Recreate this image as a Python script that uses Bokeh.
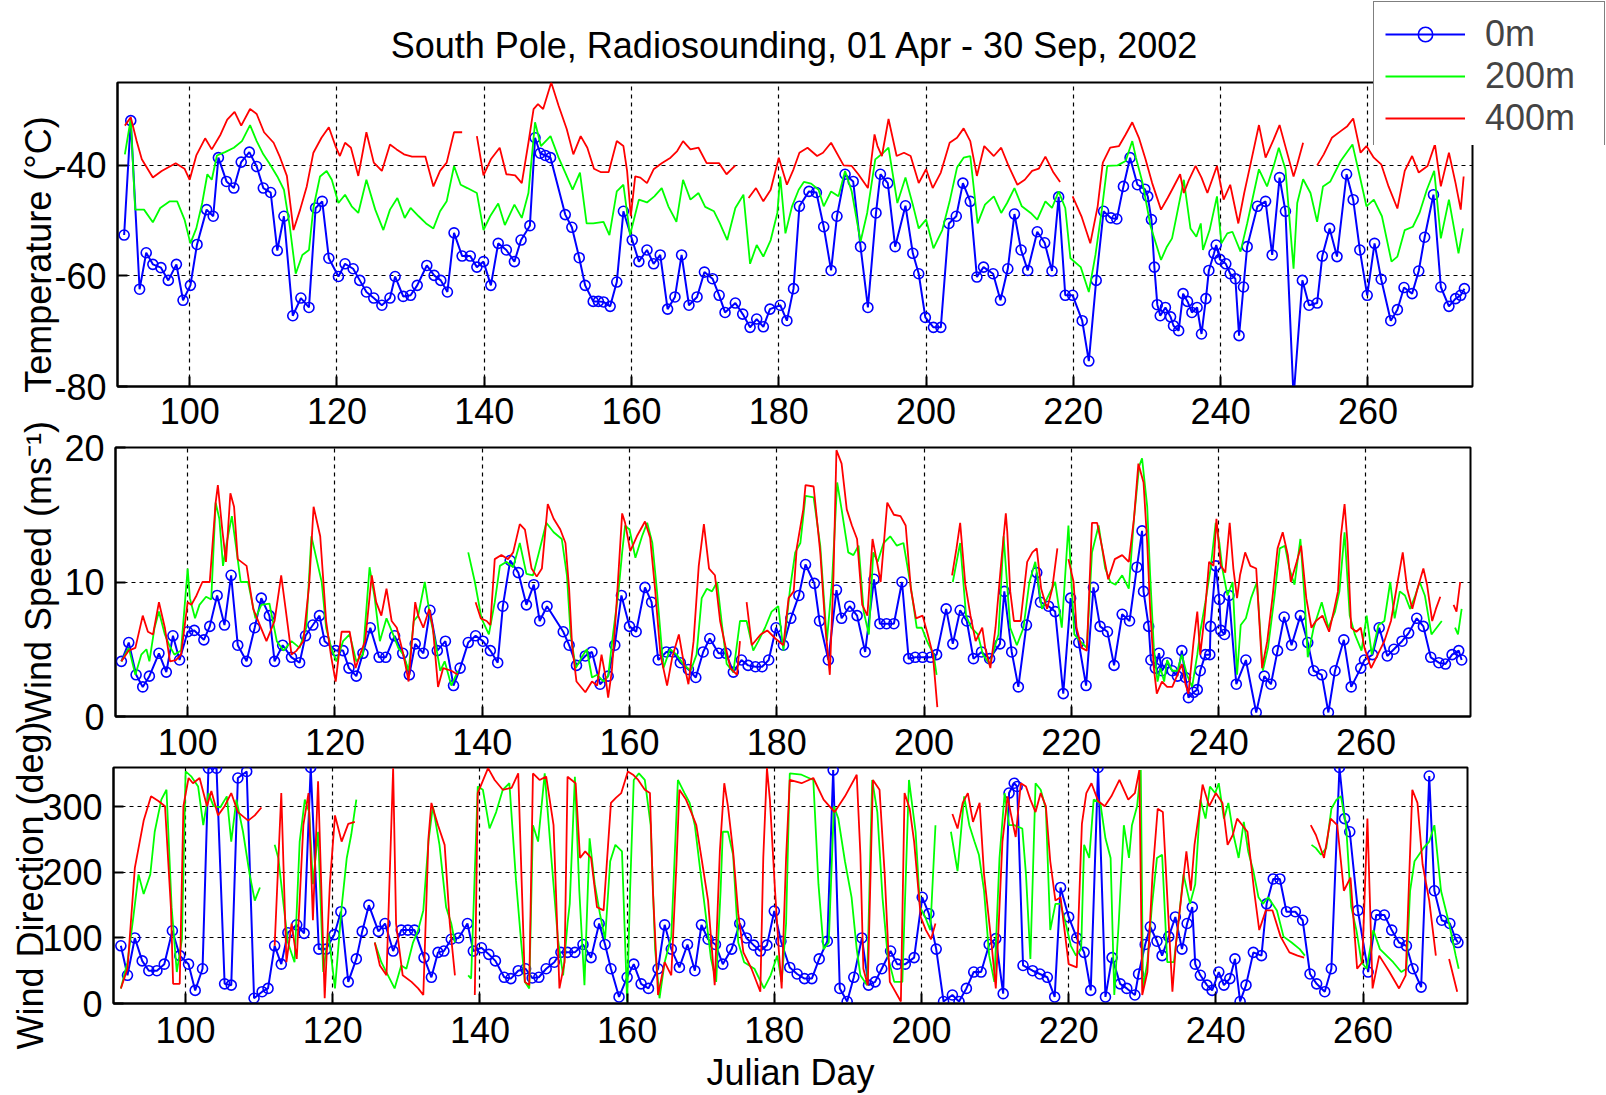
from bokeh.plotting import figure
from bokeh.models import FixedTicker, Legend, LegendItem, GridBox
from bokeh.layouts import column
from bokeh.embed import file_html
from bokeh.resources import INLINE

NAN = float("nan")

# ---------------- data (Julian day, value) ----------------
temp_0m = [(91.1,-52.6),(92.0,-31.9),(93.2,-62.4),(94.1,-55.8),(95.0,-57.9),(96.1,-58.5),(97.1,-60.8),(98.2,-57.9),(99.1,-64.4),(100.1,-61.7),
 (101.0,-54.3),(102.3,-48.0),(103.2,-49.2),(103.9,-38.6),(105.0,-42.9),(106.0,-44.1),(107.0,-39.4),(108.1,-37.6),(109.1,-40.2),(110.0,-44.1),
 (111.0,-44.9),(111.9,-55.4),(112.8,-49.2),(114.0,-67.2),(115.1,-64.0),(116.2,-65.7),(117.1,-47.7),(118.0,-46.5),(118.9,-56.8),(120.2,-60.1),
 (121.1,-57.8),(122.2,-58.7),(123.1,-60.8),(124.0,-62.9),(125.0,-64.0),(126.1,-65.3),(127.2,-64.0),(127.9,-60.1),(129.0,-63.7),(130.0,-63.5),
 (130.9,-61.7),(132.2,-58.1),(133.2,-59.9),(134.1,-60.8),(135.0,-62.9),(135.9,-52.2),(137.0,-56.4),(138.1,-56.4),(139.0,-58.4),(139.9,-57.4),
 (140.9,-61.7),(141.9,-54.1),(143.0,-55.3),(144.1,-57.4),(145.0,-53.5),(146.2,-50.9),(146.9,-35.0),(147.6,-37.8),(148.3,-38.2),(149.0,-38.6),
 (151.0,-48.9),(151.9,-51.2),(152.9,-56.7),(153.7,-61.7),(154.8,-64.6),(155.5,-64.6),(156.2,-64.7),(157.1,-65.5),(158.0,-61.1),(158.9,-48.3),
 (160.1,-53.5),(161.0,-57.4),(162.1,-55.3),(163.0,-57.8),(163.9,-56.2),(164.9,-66.0),(165.9,-63.8),(166.8,-56.2),(167.8,-65.3),(168.9,-63.8),
 (169.9,-59.3),(171.0,-60.5),(171.9,-63.5),(172.7,-66.6),(174.1,-64.9),(175.1,-66.9),(176.1,-69.3),(177.0,-67.8),(177.9,-69.2),(178.8,-66.0),
 (180.2,-65.3),(181.1,-68.1),(182.0,-62.3),(182.8,-47.4),(184.1,-44.7),(185.1,-44.9),(186.1,-51.1),(187.1,-59.0),(187.9,-49.2),(189.0,-41.6),
 (190.1,-42.9),(191.1,-54.7),(192.1,-65.7),(193.2,-48.6),(193.8,-41.6),(194.8,-43.2),(195.8,-54.7),(197.2,-47.3),(198.2,-55.9),(199.0,-59.6),
 (199.9,-67.5),(201.0,-69.3),(202.0,-69.3),(203.1,-50.5),(204.1,-49.2),(205.0,-43.2),(206.0,-46.5),(206.9,-60.2),(207.8,-58.4),(209.1,-59.6),
 (210.1,-64.4),(211.1,-58.7),(212.0,-48.8),(212.9,-55.3),(213.8,-59.0),(215.1,-52.0),(216.1,-54.0),(217.1,-59.1),(218.0,-45.7),(218.9,-63.5),
 (219.9,-63.5),(221.2,-68.1),(222.1,-75.4),(223.1,-60.8),(224.1,-48.3),(225.1,-49.5),(225.9,-49.7),(226.8,-43.8),(227.7,-38.6),(228.7,-43.5),
 (229.7,-44.3),(230.1,-45.6),(230.6,-49.8),(231.0,-58.4),(231.4,-65.2),(231.8,-67.2),(232.5,-65.7),(233.2,-67.4),(233.6,-69.0),(234.3,-69.9),
 (234.9,-63.2),(235.5,-64.6),(236.1,-66.6),(236.8,-65.7),(237.4,-70.5),(238.0,-64.1),(238.4,-59.0),(239.1,-55.9),(239.4,-54.4),(239.9,-57.0),
 (240.7,-57.8),(241.3,-59.6),(242.0,-60.5),(242.5,-70.8),(243.1,-62.0),(243.6,-54.7),(245.0,-47.4),(246.1,-46.5),(247.0,-56.2),(248.0,-42.2),
 (248.8,-48.3),(249.9,-82.0),(251.1,-60.8),(252.0,-65.3),(253.1,-64.9),(253.8,-56.4),(254.8,-51.4),(255.8,-56.5),(257.1,-41.6),(258.0,-46.2),
 (258.9,-55.3),(259.9,-63.5),(260.9,-54.1),(261.8,-60.6),(263.1,-68.1),(264.0,-66.1),(264.9,-62.1),(266.0,-63.2),(266.9,-59.1),(267.7,-53.0),
 (268.9,-45.3),(269.9,-62.0),(271.0,-65.5),(271.9,-64.1),(272.6,-63.5),(273.1,-62.3)]

temp_200m = [(91.2,-38.0),(92.0,-31.6),(92.6,-48.0),(93.8,-48.0),(95.0,-50.3),(96.0,-47.7),(97.3,-46.5),(98.3,-46.5),(99.3,-49.8),(100.1,-54.1),
 (100.9,-51.4),(101.7,-46.8),(102.4,-41.6),(103.0,-42.6),(103.7,-38.2),(104.8,-37.6),(106.0,-36.8),(107.1,-35.6),(108.2,-32.7),(109.1,-35.6),
 (110.0,-38.0),(110.9,-39.8),(111.9,-42.0),(112.8,-44.4),(113.6,-51.1),(114.4,-59.6),(115.3,-56.2),(116.2,-55.3),(116.8,-47.7),(117.7,-42.0),
 (118.6,-41.0),(119.3,-42.6),(120.2,-46.8),(121.1,-45.3),(122.0,-47.4),(122.9,-48.6),(124.0,-42.6),(125.2,-48.0),(126.3,-51.7),(127.2,-48.0),
 (128.2,-45.9),(129.2,-49.5),(130.0,-47.7),(131.1,-49.2),(132.1,-50.5),(133.1,-51.4),(134.0,-48.3),(134.9,-46.5),(135.9,-40.1),(136.8,-43.5),
 (137.7,-44.1),(139.0,-45.0),(139.9,-51.7),(140.8,-49.2),(141.9,-46.9),(142.8,-50.8),(144.1,-47.1),(145.1,-49.5),(146.0,-45.0),(146.9,-32.2),
 (147.7,-36.5),(149.0,-34.7),(150.1,-38.6),(151.0,-41.3),(152.0,-44.4),(153.0,-41.3),(153.9,-50.5),(154.8,-50.5),(156.2,-50.2),(157.0,-52.6),
 (158.0,-44.7),(158.9,-43.5),(159.8,-52.6),(161.0,-46.2),(162.1,-46.7),(163.1,-45.6),(164.1,-44.1),(165.0,-47.4),(166.1,-50.2),(167.0,-42.6),
 (168.0,-46.2),(169.1,-45.0),(170.0,-47.5),(171.2,-48.3),(172.0,-50.5),(173.0,-53.5),(174.1,-47.7),(175.2,-45.3),(176.1,-57.8),(177.0,-54.4),
 (177.9,-56.5),(178.9,-53.5),(179.8,-48.6),(180.2,-42.0),(180.9,-52.3),(181.8,-47.4),(182.7,-44.4),(183.4,-43.0),(184.4,-43.3),(185.4,-44.4),
 (186.1,-47.4),(187.1,-44.7),(188.1,-45.6),(189.0,-41.0),(189.9,-44.7),(191.1,-53.8),(192.0,-48.6),(193.1,-38.9),(194.2,-37.7),(194.9,-36.8),
 (196.1,-46.8),(197.2,-42.2),(198.2,-47.1),(199.0,-51.4),(200.0,-49.8),(201.0,-55.0),(202.2,-51.7),(203.2,-46.5),(204.2,-40.4),(205.1,-38.6),
 (206.0,-38.3),(207.0,-50.5),(208.0,-47.1),(209.2,-45.6),(210.2,-48.6),(211.0,-46.8),(212.0,-44.1),(213.0,-47.4),(214.2,-48.6),(215.1,-49.8),
 (216.2,-46.5),(217.1,-47.7),(218.0,-44.7),(218.9,-47.7),(219.6,-56.8),(221.0,-58.4),(222.1,-62.9),(223.0,-56.2),(223.9,-47.7),(224.6,-40.1),
 (226.0,-40.0),(227.1,-39.2),(228.0,-35.6),(228.5,-38.6),(229.4,-43.2),(230.5,-51.1),(231.9,-57.1),(232.7,-54.7),(233.4,-53.2),(234.1,-48.6),
 (235.0,-42.6),(235.9,-51.4),(236.7,-52.9),(237.3,-50.5),(237.6,-55.3),(238.5,-51.7),(239.5,-45.6),(240.1,-54.1),(240.9,-52.3),(241.6,-52.0),
 (242.7,-55.6),(243.6,-50.5),(245.2,-40.7),(246.3,-43.8),(247.2,-40.1),(247.9,-36.8),(248.8,-40.7),(249.9,-58.7),(250.4,-46.8),(251.2,-42.5),
 (252.2,-45.0),(253.1,-50.2),(253.9,-43.8),(254.9,-42.9),(256.3,-39.2),(257.9,-36.2),(258.9,-42.0),(259.8,-47.4),(260.8,-46.2),(261.9,-49.2),
 (263.2,-57.4),(264.0,-56.5),(265.0,-51.7),(266.1,-51.1),(267.0,-48.6),(268.0,-44.4),(269.0,-41.0),(269.9,-53.2),(271.0,-46.2),(272.3,-55.9),
 (272.9,-51.4)]

temp_400m = [(91.2,-32.8),(92.0,-31.3),(92.8,-35.6),(93.5,-38.9),(95.0,-42.2),(96.2,-41.0),(98.1,-39.6),(99.3,-40.6),(100.0,-42.6),(100.9,-38.2),
 (102.1,-35.1),(103.0,-37.1),(104.2,-34.4),(105.1,-31.7),(106.1,-30.3),(107.0,-32.8),(108.2,-29.8),(109.1,-30.7),(110.1,-34.0),(111.4,-35.9),
 (112.2,-38.3),(113.2,-41.9),(114.1,-51.7),(115.0,-48.0),(115.9,-43.8),(116.8,-37.7),(117.9,-35.0),(118.9,-33.1),(119.8,-36.5),(120.4,-38.3),
 (121.1,-35.9),(121.9,-36.8),(122.9,-41.9),(124.0,-34.0),(125.0,-39.5),(126.1,-41.0),(127.2,-36.2),(128.1,-37.1),(129.1,-38.0),(130.2,-38.4),
 (132.0,-38.4),(133.1,-43.8),(134.0,-41.0),(134.9,-39.5),(135.9,-34.0),(137.0,-34.0),(138.0,NAN),(139.0,-34.7),(139.9,-41.8),(140.9,-38.9),
 (142.1,-36.8),(143.0,-41.6),(144.2,-41.8),(145.1,-43.2),(146.0,-35.9),(146.7,-29.8),(147.3,-28.9),(148.0,-29.8),(149.1,-25.0),(150.1,-29.2),
 (151.2,-33.4),(152.1,-38.0),(153.1,-34.7),(154.0,-36.8),(154.9,-40.6),(155.8,-41.2),(156.9,-41.2),(158.0,-35.6),(158.9,-36.5),(159.4,-41.0),
 (159.9,-49.2),(160.5,-42.0),(161.2,-42.2),(162.1,-43.2),(163.0,-40.7),(164.1,-39.6),(165.3,-38.6),(166.2,-37.4),(167.0,-35.6),(168.0,-37.1),
 (169.1,-36.8),(170.2,-39.6),(171.9,-39.6),(172.9,-41.6),(174.1,-40.0),(175.0,NAN),(175.9,-45.9),(176.9,-44.1),(177.9,-46.5),(178.9,-44.4),
 (180.0,-38.6),(181.1,-43.5),(182.0,-40.7),(182.8,-37.7),(183.9,-36.8),(185.2,-38.3),(186.0,-37.7),(187.1,-35.9),(188.8,-40.0),(189.9,-40.1),
 (190.8,-41.6),(192.1,-44.1),(193.0,-34.4),(193.4,-36.5),(194.0,-38.3),(194.9,-31.6),(196.0,-38.3),(197.0,-37.7),(197.9,-38.3),(199.0,-43.2),
 (200.0,-40.7),(200.9,-44.1),(202.0,-41.3),(203.2,-35.9),(204.2,-35.0),(205.1,-33.3),(206.0,-35.6),(206.9,-41.9),(207.9,-36.5),(209.2,-38.3),
 (210.2,-36.8),(211.2,-40.1),(212.4,-43.5),(213.4,-42.6),(214.4,-41.0),(215.3,-40.6),(216.2,-38.4),(217.3,-41.3),(218.2,-43.0),(219.0,NAN),
 (219.9,-45.6),(221.1,-49.2),(222.3,-54.1),(223.3,-47.4),(224.0,-39.5),(225.0,-36.8),(226.2,-36.5),(227.1,-34.4),(228.0,-32.2),(228.9,-35.0),
 (229.8,-38.9),(230.7,-43.2),(231.9,-48.0),(232.8,-45.9),(233.4,-44.4),(234.5,-41.6),(235.0,-45.0),(235.7,-42.6),(236.6,-40.1),(237.4,-42.2),
 (238.2,-45.0),(239.5,-40.1),(240.4,-46.2),(241.3,-43.5),(242.4,-50.5),(243.2,-45.0),(244.1,-39.5),(245.2,-32.7),(246.1,-38.6),(247.2,-35.3),
 (248.0,-32.7),(248.9,-37.1),(249.9,-42.0),(250.4,-39.8),(251.2,-35.9),(252.2,NAN),(253.1,-40.0),(254.0,-38.0),(255.1,-35.0),(256.3,-33.8),
 (257.2,-32.9),(258.0,-31.5),(259.0,-37.7),(259.8,-36.5),(260.8,-38.6),(261.8,-39.8),(262.8,-43.8),(264.0,-47.8),(265.0,-41.0),(266.0,-38.3),
 (266.9,-41.3),(268.1,-40.1),(269.1,-36.2),(269.9,-43.8),(271.0,-37.7),(271.9,-43.2),(272.6,-48.0),(273.0,-42.0)]

speed_0m = [(91.0,4.1),(92.0,5.5),(93.0,3.1),(93.9,2.2),(94.8,3.0),(96.1,4.7),(97.1,3.3),(98.0,6.0),(98.9,4.2),(100.0,6.3),
 (100.9,6.4),(102.2,5.7),(103.0,6.7),(104.0,9.0),(105.0,6.8),(105.9,10.5),(106.8,5.3),(108.0,4.1),(109.1,6.6),(110.0,8.8),
 (111.1,7.5),(111.8,4.1),(112.9,5.3),(114.1,4.4),(115.2,4.0),(116.0,6.0),(117.0,6.8),(117.9,7.5),(118.6,5.6),(120.1,4.9),
 (121.1,4.9),(121.9,3.6),(122.9,3.0),(123.8,4.7),(124.8,6.6),(126.0,4.4),(126.9,4.4),(128.1,6.0),(129.2,4.7),(130.1,3.1),
 (130.9,5.4),(132.0,4.7),(132.9,7.9),(133.9,4.9),(135.0,5.6),(136.1,2.3),(137.0,3.6),(138.1,5.5),(139.1,6.0),(140.1,5.6),
 (141.1,4.9),(142.1,4.0),(142.8,8.2),(143.8,11.6),(144.9,10.7),(146.0,8.3),(147.0,9.8),(147.8,7.1),(148.8,8.2),(151.0,6.3),
 (151.8,5.3),(152.8,3.8),(154.0,4.5),(154.9,4.8),(156.0,2.4),(157.1,3.0),(158.0,5.3),(158.9,9.0),(160.0,6.7),(160.9,6.3),
 (162.1,9.6),(163.0,8.5),(163.9,4.2),(165.0,4.8),(165.9,4.8),(166.9,4.0),(168.0,3.5),(169.0,2.9),(170.0,4.8),(170.9,5.8),
 (172.1,4.7),(173.1,4.7),(174.1,3.3),(175.2,4.2),(176.1,3.8),(177.1,3.7),(178.0,3.7),(178.9,4.2),(179.9,6.6),(180.9,5.3),
 (181.9,7.3),(183.0,9.0),(183.9,11.3),(185.1,9.9),(185.8,7.1),(187.0,4.2),(188.1,9.4),(188.8,7.3),(189.9,8.2),(190.9,7.5),
 (192.0,4.8),(193.2,10.2),(194.0,6.9),(194.9,6.9),(195.9,6.9),(197.0,10.0),(197.9,4.3),(198.8,4.4),(199.8,4.4),(200.9,4.4),
 (201.7,4.6),(203.0,8.0),(203.9,5.4),(204.9,7.9),(205.8,7.1),(206.7,4.3),(207.8,4.8),(208.9,4.3),(210.3,5.4),(210.9,9.3),
 (211.9,4.8),(212.8,2.2),(213.9,6.8),(215.3,10.7),(215.8,8.5),(216.9,8.2),(217.8,7.8),(218.9,1.7),(219.9,8.8),(221.0,5.5),
 (222.0,2.3),(223.0,9.6),(223.9,6.7),(224.9,6.3),(225.8,3.8),(226.9,7.6),(227.9,7.1),(228.9,11.1),(229.6,13.8),(229.8,9.3),
 (230.5,6.7),(230.8,4.2),(231.4,3.6),(231.9,4.7),(232.3,3.4),(233.0,4.0),(233.7,3.4),(234.4,3.0),(235.0,4.9),(235.5,2.9),
 (235.9,1.4),(236.6,1.8),(237.1,2.0),(237.5,3.4),(238.2,4.6),(238.8,4.6),(238.9,6.7),(239.6,11.2),(240.1,8.7),(240.3,6.4),
 (240.8,6.1),(241.4,9.0),(242.4,2.4),(243.7,4.2),(245.1,0.3),(246.2,3.0),(247.1,2.4),(248.0,4.9),(248.9,7.4),(249.9,5.3),
 (251.1,7.5),(252.1,5.5),(252.9,3.4),(254.0,3.1),(254.9,0.3),(255.8,3.4),(257.0,5.7),(258.0,2.2),(259.3,3.6),(259.8,4.2),
 (260.9,4.6),(261.8,6.6),(262.9,4.5),(263.8,5.0),(264.9,5.6),(265.8,6.2),(266.9,7.3),(267.8,6.7),(268.8,4.4),(269.9,4.0),
 (270.8,3.9),(271.7,4.6),(272.6,4.9),(273.0,4.2)]

speed_200m = [(91.0,4.1),(92.0,5.1),(92.9,3.1),(93.7,4.6),(94.4,5.0),(94.8,4.1),(95.5,6.6),(96.1,7.8),(96.9,6.1),(97.5,5.3),
 (98.2,4.6),(99.1,4.9),(100.0,11.0),(100.3,8.8),(101.0,7.3),(101.6,8.3),(102.5,8.9),(103.2,8.7),(103.8,15.9),(104.3,14.7),
 (104.8,11.2),(105.3,12.9),(106.0,14.9),(106.6,12.5),(107.2,10.0),(108.2,10.0),(109.2,7.3),(110.0,8.3),(111.1,8.4),(112.1,5.6),
 (113.0,4.9),(114.1,5.6),(115.2,5.1),(116.1,6.6),(116.8,13.4),(117.5,11.7),(118.2,10.0),(118.8,6.6),(119.5,5.1),(120.2,4.1),
 (121.1,5.6),(122.0,6.1),(122.9,4.1),(123.8,4.6),(124.7,11.1),(125.4,8.8),(126.1,5.6),(127.0,7.3),(127.9,6.1),(128.6,5.1),
 (129.3,4.6),(130.0,3.4),(130.7,7.1),(131.3,7.5),(132.2,10.0),(132.9,7.5),(133.6,5.6),(134.3,3.4),(134.9,4.1),(135.8,2.3),
 (136.7,3.4),(137.5,NAN),(138.1,12.2),(139.0,10.0),(139.9,7.3),(140.9,6.1),(141.7,8.5),(142.4,11.2),(143.3,11.5),(144.2,11.1),
 (145.1,12.9),(146.0,10.6),(146.9,10.5),(147.7,12.2),(148.7,14.4),(149.7,13.7),(150.8,13.2),(151.5,10.5),(152.0,6.1),(152.7,3.6),
 (153.5,4.4),(154.2,5.0),(154.9,2.9),(155.6,3.1),(156.5,2.6),(157.1,3.0),(157.8,6.3),(158.5,9.3),(159.0,12.2),(159.4,14.2),
 (160.0,13.9),(160.8,11.8),(161.7,13.4),(162.4,14.4),(163.1,12.9),(163.7,9.5),(164.6,3.6),(165.5,5.0),(166.4,4.6),(167.3,3.9),
 (168.3,3.4),(169.1,4.6),(169.8,8.8),(170.5,9.5),(171.2,9.3),(171.9,10.0),(172.6,6.6),(173.2,3.9),(174.1,3.3),(175.0,7.1),
 (175.9,7.1),(176.8,4.9),(177.5,5.6),(178.4,6.6),(179.3,7.8),(180.2,8.2),(180.9,4.9),(181.8,9.5),(182.5,12.2),(183.2,12.9),
 (183.9,16.4),(185.0,16.3),(185.9,12.7),(186.8,5.6),(187.5,10.0),(188.2,17.4),(188.8,15.4),(189.7,12.2),(190.4,12.0),(191.1,12.7),
 (191.8,7.8),(192.5,6.1),(193.1,12.2),(193.7,11.5),(194.5,12.9),(195.4,13.4),(196.3,12.7),(197.2,12.9),(198.1,10.0),(199.0,6.6),
 (199.7,6.6),(200.4,5.6),(201.3,4.6),(201.7,3.1),(202.8,NAN),(203.9,10.0),(204.9,12.9),(205.7,7.5),(206.4,6.6),(207.3,6.1),
 (208.0,4.6),(208.9,3.9),(210.1,6.1),(210.8,13.4),(211.7,6.6),(212.6,5.3),(213.5,6.6),(214.3,10.0),(215.1,11.5),(216.0,8.0),
 (216.9,9.0),(217.8,10.0),(218.7,6.6),(219.6,14.2),(220.4,6.1),(221.2,5.6),(222.1,5.1),(222.8,12.2),(223.7,14.2),(224.6,11.0),
 (225.3,10.0),(226.0,9.8),(226.9,10.5),(227.8,9.5),(228.5,14.7),(229.2,18.6),(229.6,19.2),(230.3,15.6),(230.7,10.5),(231.2,5.1),
 (231.7,2.6),(232.1,3.6),(232.6,2.6),(233.0,4.2),(233.7,3.4),(234.4,3.4),(235.0,4.6),(235.7,3.1),(236.4,2.2),(237.1,4.6),
 (237.5,6.3),(238.2,8.5),(238.9,11.0),(239.6,14.4),(240.1,12.9),(240.5,11.0),(241.2,9.0),(241.9,10.0),(242.5,3.1),(243.0,6.8),
 (243.7,7.3),(244.4,8.8),(245.2,10.0),(246.0,3.4),(246.7,5.1),(247.6,9.0),(248.3,12.5),(249.0,12.7),(249.6,11.0),(250.3,9.8),
 (251.1,13.2),(251.7,8.5),(252.1,4.4),(252.9,6.6),(254.0,8.5),(254.9,6.6),(255.8,7.8),(256.4,9.3),(257.1,13.7),(257.8,7.5),
 (258.5,6.1),(259.4,4.9),(260.1,7.5),(260.8,4.6),(261.7,6.8),(262.5,7.1),(263.3,10.0),(263.9,7.3),(264.6,9.3),(265.3,9.0),
 (266.0,8.0),(266.7,9.0),(267.3,10.0),(268.0,9.0),(268.9,6.1),(269.6,6.6),(270.3,7.1),(271.2,NAN),(272.1,6.6),(272.5,6.1),
 (273.0,8.0)]

speed_400m = [(91.0,4.1),(92.0,4.9),(92.9,5.1),(93.9,7.5),(94.6,6.3),(95.3,6.1),(96.1,8.5),(96.9,6.6),(97.6,4.1),(98.4,4.2),
 (99.1,4.6),(100.0,8.5),(100.5,8.3),(101.2,9.0),(102.0,10.0),(103.0,10.0),(103.8,15.9),(104.1,17.2),(104.7,13.9),(105.2,11.5),
 (105.8,16.6),(106.3,15.6),(106.8,11.7),(108.0,11.2),(108.9,8.0),(109.8,6.8),(110.7,5.6),(111.8,7.1),(112.7,10.5),(113.3,8.0),
 (114.1,4.6),(114.8,4.9),(115.7,5.6),(116.5,9.8),(117.1,15.6),(118.0,13.4),(118.8,7.1),(119.5,4.4),(120.1,2.6),(120.9,6.3),
 (122.0,6.3),(122.8,3.6),(123.4,4.6),(124.1,5.6),(125.0,10.5),(125.6,8.5),(126.3,7.5),(127.0,9.5),(127.7,7.1),(128.4,6.6),
 (129.3,4.6),(130.0,2.6),(130.9,8.5),(131.3,7.5),(132.0,6.6),(132.8,8.0),(133.3,6.6),(134.0,2.2),(134.7,3.6),(135.8,3.4),
 (136.7,3.1),(138.0,NAN),(139.1,8.5),(139.8,7.3),(140.6,7.1),(141.1,6.8),(141.7,11.7),(142.6,12.0),(143.5,11.7),(144.2,12.2),
 (145.1,14.3),(145.8,13.9),(146.7,11.0),(147.4,10.4),(148.1,11.0),(148.9,15.8),(149.7,14.7),(150.6,13.9),(151.3,12.9),(151.8,9.5),
 (152.2,5.3),(152.8,2.6),(154.0,1.8),(154.9,2.6),(155.6,2.3),(156.2,4.6),(156.7,3.1),(157.1,1.4),(157.6,3.4),(158.2,8.0),
 (159.0,15.1),(159.4,14.4),(160.1,12.3),(161.0,13.4),(162.1,14.5),(162.8,13.3),(163.5,9.3),(164.2,4.6),(165.1,2.3),(165.8,4.4),
 (166.7,6.1),(167.4,3.9),(168.0,2.4),(168.7,5.6),(169.4,11.2),(170.1,14.3),(170.8,11.0),(171.6,10.5),(172.3,7.1),(173.0,5.3),
 (173.7,3.6),(174.6,3.1),(175.0,5.6),(175.4,NAN),(175.9,8.5),(176.6,5.3),(177.8,6.1),(178.7,6.4),(179.8,5.8),(180.9,5.3),
 (181.6,8.8),(182.3,9.3),(182.7,12.5),(183.6,15.4),(183.9,17.2),(185.0,17.1),(185.9,12.2),(186.6,6.6),(187.2,3.1),(187.7,10.5),
 (188.1,19.8),(188.8,18.8),(189.5,15.4),(190.2,14.2),(190.9,13.2),(191.6,8.3),(192.3,7.5),(193.0,13.2),(193.6,11.5),(194.1,10.0),
 (195.0,15.9),(195.9,15.0),(196.8,14.9),(197.5,14.2),(198.2,9.5),(198.9,7.3),(199.8,7.5),(200.5,6.1),(201.2,4.6),(201.8,0.7),
 (202.8,NAN),(203.8,10.5),(204.4,12.5),(204.9,14.4),(205.6,9.8),(206.3,7.5),(207.0,5.6),(207.9,6.6),(208.3,5.1),(209.0,3.6),
 (209.7,6.6),(210.4,11.0),(211.1,15.1),(211.3,13.7),(211.7,9.3),(212.2,7.1),(213.1,7.1),(214.0,11.5),(214.7,12.2),(215.3,12.5),
 (215.9,9.5),(216.7,8.0),(217.4,9.5),(218.1,12.5),(218.9,NAN),(219.6,11.7),(220.3,10.0),(220.7,6.6),(221.4,5.1),(222.1,4.9),
 (222.8,14.4),(223.5,14.4),(224.2,12.5),(225.0,10.2),(225.9,11.7),(226.9,12.0),(227.8,11.5),(228.5,14.7),(229.1,18.8),(229.8,17.4),
 (230.3,12.9),(230.7,8.0),(231.2,3.6),(231.6,1.7),(232.3,2.6),(233.0,2.2),(233.7,2.2),(234.4,3.1),(235.0,3.9),(235.5,2.4),
 (235.9,1.7),(236.6,5.6),(237.1,7.8),(237.5,4.6),(238.1,7.5),(238.7,11.5),(239.3,11.2),(239.7,14.7),(240.3,11.2),(240.9,10.7),
 (241.5,14.4),(242.0,11.0),(242.5,8.8),(242.9,10.5),(243.6,12.2),(244.3,11.2),(245.1,11.0),(245.9,3.6),(246.6,5.6),(247.3,8.8),
 (248.0,12.5),(248.7,13.7),(249.4,12.0),(249.8,10.0),(250.6,11.5),(251.2,12.7),(251.9,8.8),(252.6,6.6),(253.2,7.1),(254.1,7.5),
 (255.0,6.3),(255.7,8.0),(256.2,9.3),(256.6,13.4),(257.1,15.8),(257.5,12.9),(258.0,6.6),(258.7,6.3),(259.3,6.6),(259.8,5.1),
 (260.7,3.6),(261.6,4.6),(262.5,5.6),(263.4,7.1),(264.3,10.0),(265.0,12.2),(265.6,9.5),(266.3,8.0),(267.0,9.5),(267.8,11.0),
 (268.3,9.8),(269.0,7.1),(269.5,8.0),(270.1,8.9),(271.0,NAN),(271.9,8.3),(272.3,7.8),(272.8,10.0)]

dir_0m = [(91.2,88),(92.1,43),(93.1,100),(94.1,65),(95.0,50),(96.1,50),(97.1,60),(98.2,111),(99.2,73),(100.4,60),
 (101.3,20),(102.3,53),(103.1,359),(104.2,359),(105.3,30),(106.2,28),(107.1,344),(108.3,354),(109.3,8),(110.4,18),
 (111.2,23),(112.1,88),(113.0,60),(113.9,108),(115.1,120),(116.1,107),(117.0,360),(118.1,83),(119.1,83),(120.2,105),
 (121.1,140),(122.1,33),(123.2,68),(124.0,110),(124.9,150),(126.2,110),(127.1,122),(128.2,80),(129.3,112),(130.2,112),
 (131.1,112),(132.4,70),(133.4,40),(134.3,78),(135.1,80),(136.1,98),(137.1,100),(138.3,122),(139.1,80),(140.2,85),
 (141.2,75),(142.1,65),(143.3,40),(144.2,38),(145.2,50),(146.2,53),(147.1,39),(148.0,40),(149.0,53),(150.1,63),
 (151.0,78),(151.9,78),(152.9,78),(154.0,90),(155.1,70),(156.2,122),(157.0,90),(157.8,53),(158.9,10),(160.0,40),
 (160.9,60),(161.9,30),(162.9,23),(164.2,53),(165.1,120),(166.0,83),(167.1,55),(168.2,90),(169.2,50),(170.1,120),
 (171.0,98),(172.0,90),(173.0,60),(174.2,83),(175.3,122),(176.2,100),(177.2,89),(178.1,80),(179.0,89),(180.0,141),
 (180.9,95),(182.1,55),(183.1,45),(184.1,38),(185.1,38),(186.1,68),(187.2,95),(188.0,356),(188.9,23),(189.9,3),
 (190.8,40),(191.9,100),(192.8,28),(193.7,33),(194.6,53),(195.8,80),(196.7,60),(197.8,60),(199.0,70),(200.1,162),
 (201.0,137),(202.0,83),(203.0,3),(204.2,13),(205.1,3),(206.1,23),(207.1,48),(208.1,48),(209.2,90),(210.1,99),
 (211.1,15),(211.9,321),(212.6,336),(213.0,331),(213.8,58),(215.1,50),(216.1,45),(217.1,40),(218.1,10),(218.9,177),
 (220.0,132),(221.1,100),(222.1,78),(223.0,20),(224.0,360),(225.0,10),(225.9,70),(227.0,30),(227.9,23),(229.0,13),
 (229.5,45),(230.4,90),(231.1,117),(232.0,95),(232.7,73),(233.6,102),(234.5,132),(235.4,83),(236.1,122),(236.8,147),
 (237.2,60),(237.9,43),(238.8,28),(239.5,20),(240.4,48),(241.1,28),(241.9,38),(242.6,68),(243.3,3),(244.1,28),
 (245.1,78),(246.2,73),(246.9,152),(247.8,190),(248.7,190),(249.6,140),(250.8,140),(251.8,127),(252.8,45),(253.7,30),
 (254.8,18),(255.7,53),(256.8,360),(257.5,282),(258.2,262),(259.3,142),(260.7,48),(261.8,135),(262.9,135),(263.9,112),
 (264.9,93),(265.9,88),(266.8,53),(267.9,25),(269.0,347),(269.7,172),(270.7,127),(271.8,122),(272.6,98),(272.9,93)]

dir_200m = [(91.2,23),(92.1,63),(92.9,132),(93.6,197),(94.3,167),(95.2,197),(95.8,262),(96.7,311),(97.4,326),(98.1,147),
 (98.8,48),(99.5,98),(100.0,354),(100.8,346),(101.7,331),(102.4,272),(103.1,321),(103.8,301),(104.7,299),(105.6,316),
 (106.2,247),(106.9,311),(107.8,262),(108.7,197),(109.4,157),(110.1,177),(111.1,NAN),(112.1,242),(112.6,222),(113.3,152),
 (113.9,93),(114.8,63),(115.5,247),(116.2,311),(116.8,292),(117.3,182),(118.0,262),(118.7,48),(119.4,107),(120.3,23),
 (121.2,147),(121.9,222),(122.5,257),(123.2,311),(124.5,NAN),(125.7,93),(126.6,63),(127.5,43),(128.4,23),(129.3,58),
 (130.0,53),(130.9,93),(131.6,112),(132.3,142),(133.0,247),(133.6,301),(134.5,242),(135.4,147),(136.1,122),(136.6,93),
 (137.5,NAN),(138.4,43),(138.8,38),(139.7,331),(140.4,326),(141.3,267),(142.2,292),(143.1,326),(144.0,336),(144.9,187),
 (145.6,93),(146.1,33),(146.7,23),(147.2,272),(147.9,247),(148.8,351),(149.7,222),(150.6,98),(151.3,43),(151.9,122),
 (152.2,152),(152.9,346),(153.5,172),(154.2,28),(154.9,252),(155.6,182),(156.3,137),(157.0,98),(157.7,217),(158.4,242),
 (159.3,232),(160.0,3),(160.4,172),(160.9,341),(161.6,351),(162.4,341),(163.2,272),(163.8,83),(164.4,8),(165.1,63),
 (166.0,102),(166.9,341),(167.8,321),(168.5,306),(169.2,272),(170.0,197),(170.5,152),(171.4,68),(172.1,33),(172.7,172),
 (173.0,262),(173.7,262),(174.4,227),(175.1,93),(175.9,63),(177.3,53),(178.6,23),(179.5,43),(180.4,73),(181.0,33),
 (181.6,122),(182.1,351),(183.7,349),(185.3,341),(186.0,182),(186.7,83),(187.4,93),(188.1,301),(188.7,282),(189.6,217),
 (190.5,162),(191.2,83),(191.7,43),(192.6,28),(193.3,341),(194.0,292),(194.7,162),(195.4,73),(196.3,33),(197.4,33),
 (198.3,341),(199.2,262),(199.8,147),(200.5,132),(201.2,112),(201.9,272),(203.0,NAN),(204.0,262),(204.9,202),(205.8,316),
 (206.5,272),(207.2,247),(207.8,227),(208.5,172),(209.2,73),(209.9,33),(210.6,222),(211.3,321),(211.9,272),(212.6,272),
 (213.7,267),(214.2,197),(214.8,68),(215.5,336),(216.2,326),(216.9,297),(217.5,112),(218.2,152),(218.9,152),(219.6,122),
 (220.3,88),(221.0,73),(221.7,83),(222.1,242),(222.8,222),(223.4,311),(224.3,306),(225.0,252),(225.7,222),(226.2,13),
 (226.8,122),(227.5,272),(228.2,222),(228.6,272),(229.3,301),(229.8,356),(230.1,23),(230.7,63),(231.3,147),(232.0,222),
 (232.7,227),(233.4,63),(234.3,63),(234.9,122),(235.6,197),(236.5,152),(237.2,182),(237.9,311),(238.6,282),(239.2,331),
 (239.9,321),(240.4,336),(241.1,282),(241.7,306),(242.4,257),(243.1,222),(243.8,277),(244.4,232),(245.1,202),(245.8,162),
 (246.4,152),(247.1,162),(248.3,142),(249.2,102),(250.3,93),(251.4,83),(252.1,73),(252.5,NAN),(253.0,242),(253.6,237),
 (254.3,227),(255.0,237),(255.7,297),(256.4,311),(257.0,316),(257.7,272),(258.4,147),(259.1,112),(259.8,63),(260.5,53),
 (261.4,112),(262.3,83),(263.2,73),(264.1,63),(265.2,48),(265.9,53),(266.4,172),(267.0,217),(268.2,237),(269.0,247),
 (269.7,272),(270.6,172),(271.7,122),(272.6,73),(273.0,53)]

dir_400m = [(91.2,23),(92.1,53),(93.1,207),(94.3,279),(95.3,316),(96.3,309),(97.2,301),(98.0,147),(98.3,30),(99.2,30),
 (99.7,301),(100.4,344),(101.0,336),(101.9,344),(102.9,301),(103.5,324),(104.4,287),(105.3,301),(106.2,321),(107.1,292),
 (108.5,279),(109.4,287),(110.3,299),(111.2,NAN),(112.1,88),(113.0,321),(113.7,63),(114.4,122),(115.1,68),(116.0,272),
 (116.7,321),(117.3,127),(118.0,339),(118.9,8),(119.6,182),(120.3,287),(121.2,247),(122.1,274),(123.0,277),(124.4,NAN),
 (125.7,93),(126.4,58),(127.3,43),(128.2,359),(128.6,122),(129.5,43),(130.7,33),(131.6,23),(132.3,13),(133.0,252),
 (133.4,306),(134.3,272),(135.2,242),(135.9,122),(136.6,43),(138.0,NAN),(139.3,13),(139.7,321),(141.1,359),(142.0,341),
 (143.1,326),(144.3,329),(145.2,351),(146.1,33),(146.7,28),(147.2,351),(148.1,341),(149.0,346),(150.0,272),(150.8,23),
 (151.5,63),(151.9,346),(153.0,336),(153.6,222),(154.3,232),(155.1,222),(155.9,147),(156.8,142),(157.8,306),(158.5,314),
 (159.2,321),(160.1,354),(160.8,349),(161.5,341),(162.4,326),(163.1,321),(163.5,172),(164.2,13),(165.1,63),(166.0,43),
 (166.7,212),(167.1,326),(168.0,311),(168.7,292),(169.4,272),(170.1,222),(171.0,157),(171.9,28),(172.6,232),(173.2,336),
 (173.7,301),(174.4,232),(175.1,137),(175.8,78),(176.9,53),(178.1,18),(178.5,222),(179.0,359),(179.4,311),(180.1,172),
 (180.6,83),(181.0,23),(181.6,222),(182.1,341),(183.7,336),(185.3,344),(186.7,311),(188.2,292),(189.6,316),(191.2,349),
 (191.7,227),(192.1,53),(192.7,28),(193.4,341),(194.3,326),(195.0,197),(195.7,33),(197.2,3),(197.7,321),(198.4,297),
 (199.0,247),(199.9,132),(200.6,112),(201.3,98),(201.9,122),(203.0,NAN),(204.2,289),(204.9,267),(205.6,306),(206.3,321),
 (207.0,277),(207.9,306),(208.5,197),(209.5,93),(210.1,23),(211.0,247),(211.7,316),(212.1,292),(212.8,254),(213.5,336),
 (214.2,331),(214.8,311),(215.5,292),(216.2,321),(216.9,301),(217.5,217),(218.2,157),(218.9,162),(220.0,60),(221.1,55),
 (221.8,274),(222.4,321),(223.1,336),(224.0,309),(224.9,301),(225.8,316),(226.9,341),(228.1,311),(229.0,321),(229.6,356),
 (230.0,13),(230.7,48),(231.4,197),(232.1,297),(232.8,292),(233.5,142),(234.1,18),(234.6,93),(235.3,162),(236.0,232),
 (236.6,172),(237.1,242),(237.8,297),(238.2,334),(239.1,301),(240.0,321),(240.9,306),(241.6,242),(242.3,257),(242.9,282),
 (243.6,272),(244.3,262),(245.2,172),(245.9,112),(246.8,142),(247.7,142),(248.8,102),(250.0,78),(251.1,73),(252.0,70),
 (252.5,NAN),(252.9,272),(253.6,257),(254.7,222),(255.6,282),(256.5,272),(257.4,172),(258.3,192),(259.2,53),(259.9,63),
 (260.6,282),(261.3,23),(262.2,73),(263.6,48),(264.9,23),(265.8,43),(266.7,326),(267.4,306),(268.1,212),(269.0,157),
 (269.9,73),(270.8,NAN),(271.7,68),(272.8,18)]

series_labels = ["0m", "200m", "400m"]
x_ticks = [100, 120, 140, 160, 180, 200, 220, 240, 260]
temp_ticks = [-80, -60, -40]
speed_ticks = [0, 10, 20]
dir_ticks = [0, 100, 200, 300]

# ---------------- style ----------------
FONT = "Liberation Sans"
FS = "36px"
BLUE, GREEN, RED = "#0000ff", "#00ff00", "#ff0000"
X_RANGE = (90.2, 274.2)
W = 1606
NB = "\u00a0"   # non-breaking space, used to nudge y-labels along the axis as in the original


def unzip(pts):
    return [a for a, _ in pts], [b for _, b in pts]


def style_axis(ax, standoff):
    ax.major_label_text_font = FONT
    ax.major_label_text_font_size = FS
    ax.major_label_text_color = "black"
    ax.major_label_standoff = standoff
    ax.axis_line_color = "black"
    ax.axis_line_width = 2
    ax.major_tick_line_color = "black"
    ax.major_tick_line_width = 2
    ax.major_tick_in = 10
    ax.major_tick_out = 0
    ax.minor_tick_in = 0
    ax.minor_tick_out = 0
    ax.axis_label_text_font = FONT
    ax.axis_label_text_font_size = FS
    ax.axis_label_text_font_style = "normal"
    ax.axis_label_text_color = "black"


def panel(height, borders, y_range, yticks, ylabel, ylabel_standoff, xlabel_standoff, data):
    left, right, top, bottom = borders
    p = figure(width=W, height=height, x_range=X_RANGE, y_range=y_range,
               output_backend="svg", toolbar_location=None,
               min_border_left=left, min_border_right=right,
               min_border_top=top, min_border_bottom=bottom)
    p.background_fill_color = "white"
    p.border_fill_color = None          # transparent, so neighbouring panels may overlap
    p.outline_line_color = "black"
    p.outline_line_width = 2
    xax, yax = p.below[0], p.left[0]
    xax.ticker = FixedTicker(ticks=x_ticks)
    yax.ticker = FixedTicker(ticks=yticks)
    yax.major_label_overrides = {t: str(t) for t in yticks}
    style_axis(xax, xlabel_standoff)
    style_axis(yax, 11)
    yax.axis_label = ylabel
    yax.axis_label_standoff = ylabel_standoff
    for g, tk in ((p.xgrid, x_ticks), (p.ygrid, yticks)):
        g.ticker = FixedTicker(ticks=tk)
        g.grid_line_color = "black"
        g.grid_line_width = 1.2
        g.grid_line_dash = "4 4"
    x0, y0 = unzip(data[0])
    p.line(x0, y0, line_color=BLUE, line_width=2)
    p.scatter(x0, y0, marker="circle", size=10, fill_color=None,
              line_color=BLUE, line_width=1.6)
    for pts, col in ((data[1], GREEN), (data[2], RED)):
        xx, yy = unzip(pts)
        p.line(xx, yy, line_color=col, line_width=1.8)
    return p


# canvas rows: p1 0-440, p2 415-770, p3 720-1095 (overlapping transparent margins)
p1 = panel(440, (117, 134, 82, 54), (-80, -25), temp_ticks,
           "Temperature (\u00b0C)" + NB * 4, -8, 11, (temp_0m, temp_200m, temp_400m))
p1.title.text = "South Pole, Radiosounding, 01 Apr - 30 Sep, 2002"
p1.title.text_font = FONT
p1.title.text_font_size = FS
p1.title.text_font_style = "normal"
p1.title.text_color = "black"
p1.title.align = "center"
p1.title.standoff = 33

p2 = panel(355, (115, 136, 32, 54), (0, 20), speed_ticks,
           NB * 2 + "Wind Speed (ms\u207b\u00b9)", 2, 12, (speed_0m, speed_200m, speed_400m))

p3 = panel(375, (113, 139, 47, 86), (0, 360), dir_ticks,
           "Wind Direction (deg)", -12, 13, (dir_0m, dir_200m, dir_400m))
p3.below[0].axis_label = "Julian Day"
p3.below[0].axis_label_standoff = 6

# legend box, overlapping the top-right corner of the first panel (as in the original)
leg_fig = figure(width=234, height=145, x_range=(0, 1), y_range=(0, 1),
                 x_axis_type=None, y_axis_type=None, output_backend="svg",
                 toolbar_location=None, min_border=0)
leg_fig.outline_line_color = None
leg_fig.background_fill_color = None
leg_fig.border_fill_color = None
leg_fig.xgrid.visible = False
leg_fig.ygrid.visible = False
lb = leg_fig.line([-5, -4], [-5, -4], line_color=BLUE, line_width=2)
sb = leg_fig.scatter([-5], [-5], marker="circle", size=10, fill_color=None,
                     line_color=BLUE, line_width=1.6)
lg = leg_fig.line([-5, -4], [-5, -4], line_color=GREEN, line_width=1.8)
lr = leg_fig.line([-5, -4], [-5, -4], line_color=RED, line_width=1.8)
legend = Legend(items=[LegendItem(label=series_labels[0], renderers=[lb, sb]),
                       LegendItem(label=series_labels[1], renderers=[lg]),
                       LegendItem(label=series_labels[2], renderers=[lr])],
                location="top_left")
legend.label_text_font = FONT
legend.label_text_font_size = FS
legend.border_line_color = "black"
legend.border_line_width = 1.5
legend.background_fill_color = "white"
legend.background_fill_alpha = 1.0
legend.glyph_width = 80
legend.glyph_height = 36
legend.label_height = 36
legend.label_width = 108
legend.label_standoff = 20
legend.padding = 11
legend.spacing = -3
legend.margin = 1
leg_fig.add_layout(legend)

# each plot wrapped in its own column so the grid does not align the plot frames
grid = GridBox(children=[(column(p1), 0, 0, 3, 2), (column(p2), 2, 0, 3, 2),
                         (column(p3), 4, 0, 2, 2), (column(leg_fig), 0, 1, 1, 1)],
               rows=["145px", "270px", "25px", "280px", "50px", "325px"],
               cols=["1372px", "234px"], spacing=0)
open("out.html", "w").write(file_html(grid, INLINE))
